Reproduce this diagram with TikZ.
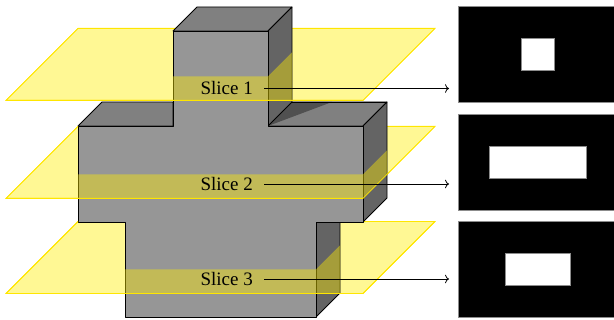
\documentclass[tikz,border=0pt]{standalone}
\usepackage{fontspec}
\setmainfont{Liberation Serif}
\usetikzlibrary{arrows.meta}
\definecolor{faceFront}{RGB}{150,150,150}
\definecolor{faceTop}{RGB}{128,128,128}
\definecolor{faceSide}{RGB}{100,100,100}
\definecolor{faceShadow}{RGB}{80,80,80}
\definecolor{planeFill}{RGB}{255,238,0}
\definecolor{planeEdge}{RGB}{255,230,0}
\definecolor{imgEdge}{RGB}{140,140,140}
\begin{document}
\begin{tikzpicture}[x=1pt,y=-1pt,
  solidedge/.style={draw=black,line width=0.8pt,line join=round},
  frontface/.style={solidedge,fill=faceFront},
  topface/.style={solidedge,fill=faceTop},
  sideface/.style={solidedge,fill=faceSide},
  planesheet/.style={fill=planeFill,fill opacity=0.42,draw=planeEdge,line width=0.8pt},
  planefront/.style={fill=planeFill,fill opacity=0.42},
  planerim/.style={draw=planeEdge,line width=0.8pt,line join=round},
  slicelabel/.style={font=\fontsize{19}{22}\selectfont,inner xsep=11pt,inner ysep=0pt},
  slicearrow/.style={-{To[length=4pt,width=8.5pt,line width=0.8pt]},draw=black,line width=0.8pt,shorten >=9.3pt},
  imgbox/.style={draw=imgEdge,fill=black,line width=0.8pt,minimum width=160pt,minimum height=96pt,inner sep=0pt,outer sep=0pt},
  holebox/.style={draw=imgEdge,fill=white,line width=0.8pt,minimum height=32pt,inner sep=0pt,outer sep=0pt}
]
\useasboundingbox (0,0) rectangle (614,320);
\clip (0,0) rectangle (614,320);

% cutting planes, behind the solid
\path[planesheet] (6,100.4) -- (363,100.4) -- (435,28.4) -- (78,28.4) -- cycle;
\path[planesheet] (6,198.4) -- (363,198.4) -- (435,126.4) -- (78,126.4) -- cycle;
\path[planesheet] (6,293.5) -- (363,293.5) -- (435,221.5) -- (78,221.5) -- cycle;

% the cross-shaped solid
\path[topface] (78,126) -- (173,126) -- (173,102) -- (102,102) -- cycle;
\path[topface] (268,126) -- (363,126) -- (387,102) -- (292,102) -- cycle;
\path[fill=faceShadow] (268,126) -- (292,102) -- (332,102) -- cycle;
\path[solidedge] (292,102) -- (387,102);
\path[topface] (173,31) -- (268,31) -- (292,7) -- (197,7) -- cycle;
\path[sideface] (268,31) -- (292,7) -- (292,102) -- (268,126) -- cycle;
\path[sideface] (363,126) -- (387,102) -- (387,198) -- (363,222) -- cycle;
\path[sideface] (316,222) -- (340,222) -- (340,293) -- (316,317) -- cycle;
\path[frontface] (173,31) -- (268,31) -- (268,126) -- (363,126) -- (363,222)
  -- (316,222) -- (316,317) -- (125,317) -- (125,222) -- (78,222)
  -- (78,126) -- (173,126) -- cycle;

% parts of the planes in front of the solid
\path[planefront] (173,76.4) -- (268,76.4) -- (292,52.4) -- (292,100.4) -- (173,100.4) -- cycle;
\path[planefront] (78,174.4) -- (363,174.4) -- (387,150.4) -- (387,174.4) -- (363,198.4) -- (78,198.4) -- cycle;
\path[planefront] (125,269.5) -- (316,269.5) -- (340,245.5) -- (340,293.5) -- (125,293.5) -- cycle;
\path[planerim] (78,28.4) -- (6,100.4) -- (363,100.4) -- (435,28.4);
\path[planerim] (78,126.4) -- (6,198.4) -- (363,198.4) -- (435,126.4);
\path[planerim] (78,221.5) -- (6,293.5) -- (363,293.5) -- (435,221.5);

% slice images
\node[imgbox] (img1) at (538.3,54.7) {};
\node[imgbox] (img2) at (538.3,162) {};
\node[imgbox] (img3) at (538.3,269.5) {};
\node[holebox,minimum width=33pt] (hole1) at (img1.center) {};
\node[holebox,minimum width=97pt] (hole2) at (img2.center) {};
\node[holebox,minimum width=65pt] (hole3) at (img3.center) {};

% labels and arrows
\node[slicelabel] (s1) at (226.7,88.5) {Slice 1};
\node[slicelabel] (s2) at (226.7,184) {Slice 2};
\node[slicelabel] (s3) at (226.7,279) {Slice 3};
\draw[slicearrow] (s1.east) -- (s1.east -| img1.west);
\draw[slicearrow] (s2.east) -- (s2.east -| img2.west);
\draw[slicearrow] (s3.east) -- (s3.east -| img3.west);
\end{tikzpicture}
\end{document}
